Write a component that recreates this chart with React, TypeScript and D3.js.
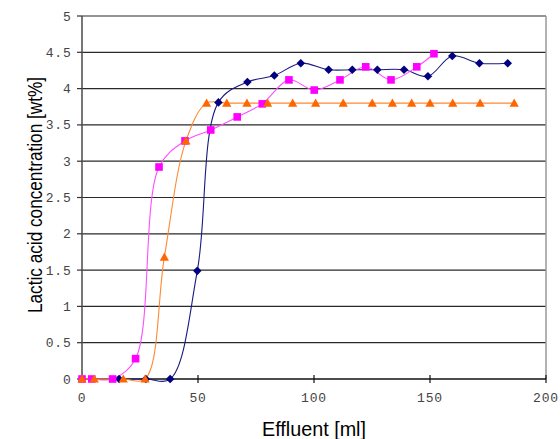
import React from "react";
import * as d3 from "d3";

const blueX = [16, 27.5, 38, 49.7, 58.8, 71.3, 82.9, 94.3, 106.3, 116.5, 127.3, 138.8, 149.1, 159.6, 171.3, 183.5];
const blueY = [0, 0, 0, 1.49, 3.81, 4.09, 4.18, 4.35, 4.26, 4.26, 4.26, 4.26, 4.17, 4.45, 4.35, 4.35];

const pinkX = [0, 4.2, 13.2, 23.1, 33.2, 44.4, 55.5, 66.9, 77.7, 89.2, 100.1, 111.2, 122.3, 133.2, 144.3, 151.7];
const pinkY = [0, 0, 0, 0.28, 2.92, 3.28, 3.43, 3.61, 3.79, 4.12, 3.98, 4.12, 4.3, 4.12, 4.3, 4.48];

const orangeX = [0, 5.3, 17.8, 27.2, 35.5, 44.8, 53.7, 62.4, 71.1, 80.0, 90.8, 100.7, 112.6, 125.1, 133.8, 142.1, 150.0, 159.8, 171.6, 186.3];
const orangeY = [0, 0, 0, 0, 1.68, 3.28, 3.8, 3.8, 3.8, 3.8, 3.8, 3.8, 3.8, 3.8, 3.8, 3.8, 3.8, 3.8, 3.8, 3.8];

const xTicks = [0, 50, 100, 150, 200];
const yTicks = [0, 0.5, 1, 1.5, 2, 2.5, 3, 3.5, 4, 4.5, 5];
const yTickLabels = ["0", "0.5", "1", "1.5", "2", "2.5", "3", "3.5", "4", "4.5", "5"];

const W = 560, H = 439;
const left = 82, right = 546, top = 16, bottom = 379;

export default function App() {
  const x = d3.scaleLinear().domain([0, 200]).range([left, right]);
  const y = d3.scaleLinear().domain([0, 5]).range([bottom, top]);
  const line = d3
    .line<[number, number]>()
    .x((d) => x(d[0]))
    .y((d) => y(d[1]))
    .curve(d3.curveCatmullRom.alpha(0.5));

  const zip = (a: number[], b: number[]) => a.map((v, i) => [v, b[i]] as [number, number]);
  const blue = zip(blueX, blueY);
  const pink = zip(pinkX, pinkY);
  const orange = zip(orangeX, orangeY);

  const tickFont = "'Liberation Mono', 'DejaVu Sans Mono', monospace";

  return (
    <svg width={W} height={H} style={{ position: "absolute", left: 0, top: 0, background: "#fff" }}>
      <rect x={0} y={0} width={W} height={H} fill="#fff" />
      {yTicks.filter((t) => t > 0).map((t) => (
        <line key={"g" + t} x1={left} x2={right} y1={y(t)} y2={y(t)} stroke="#2a2a2a" strokeWidth={1.2} />
      ))}
      <line x1={right} x2={right} y1={top} y2={bottom} stroke="#999" strokeWidth={1.5} />
      <line x1={left} x2={left} y1={top} y2={bottom} stroke="#555" strokeWidth={1.6} />
      {yTicks.map((t, i) => (
        <g key={"yt" + t}>
          <line x1={left - 5} x2={left} y1={y(t)} y2={y(t)} stroke="#333" strokeWidth={1.2} />
          <text x={71.5} y={y(t) + 4.5} textAnchor="end" fontFamily={tickFont} fontSize={13} fill="#444" letterSpacing={0.8}>
            {yTickLabels[i]}
          </text>
        </g>
      ))}
      <line x1={left} x2={right} y1={bottom} y2={bottom} stroke="#111" strokeWidth={1.3} />
      {xTicks.map((t) => (
        <g key={"xt" + t}>
          {t > 0 && <line x1={x(t)} x2={x(t)} y1={bottom - 4} y2={bottom + 4} stroke="#111" strokeWidth={1.2} />}
          <text x={x(t)} y={402} textAnchor="middle" fontFamily={tickFont} fontSize={13} fill="#444" letterSpacing={0.8}>
            {t}
          </text>
        </g>
      ))}
      <path d={line(blue) || ""} fill="none" stroke="#1a1a80" strokeWidth={1.1} />
      <path d={line(pink) || ""} fill="none" stroke="#ff4dff" strokeWidth={1.1} />
      <path d={line(orange) || ""} fill="none" stroke="#ff8833" strokeWidth={1.1} />
      {blue.map((d, i) => {
        const cx = x(d[0]), cy = y(d[1]);
        return (
          <path key={"b" + i} d={`M${cx},${cy - 4.3} L${cx + 4.3},${cy} L${cx},${cy + 4.3} L${cx - 4.3},${cy} Z`} fill="#000080" />
        );
      })}
      {pink.map((d, i) => (
        <rect key={"p" + i} x={x(d[0]) - 3.8} y={y(d[1]) - 3.8} width={7.6} height={7.6} fill="#ff00ff" />
      ))}
      {orange.map((d, i) => {
        const cx = x(d[0]), cy = y(d[1]);
        return (
          <path key={"o" + i} d={`M${cx},${cy - 4.5} L${cx + 4.6},${cy + 3.6} L${cx - 4.6},${cy + 3.6} Z`} fill="#ff6600" />
        );
      })}
      <text x={314} y={436} textAnchor="middle" fontFamily="'Liberation Sans', Arial, sans-serif" fontSize={20} fill="#000" textLength={104} lengthAdjust="spacingAndGlyphs">
        Effluent [ml]
      </text>
      <text
        transform={`translate(41.5,195) rotate(-90)`}
        textAnchor="middle"
        fontFamily="'Liberation Sans', Arial, sans-serif"
        fontSize={20}
        fill="#000"
        textLength={236}
        lengthAdjust="spacingAndGlyphs"
      >
        Lactic acid concentration [wt%]
      </text>
    </svg>
  );
}
